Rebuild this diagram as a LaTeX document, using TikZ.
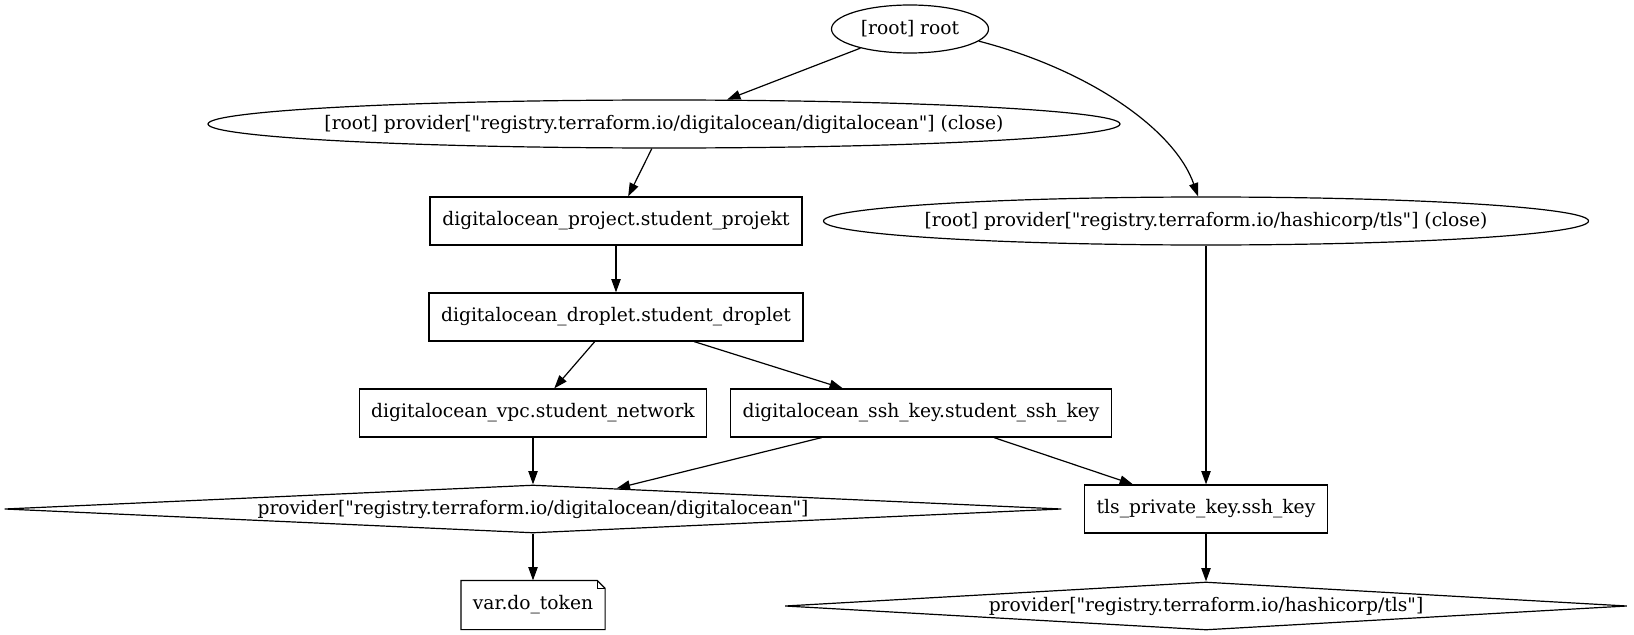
\documentclass[tikz,border=0pt]{standalone}
\usepackage{fontspec}
\setmainfont{DejaVu Serif}[Ligatures=TeXOff]
\usetikzlibrary{shapes.geometric,arrows.meta}
\newcommand{\zw}[1]{\makebox[0pt]{#1}}
\begin{document}
\begin{tikzpicture}[x=0.75pt,y=-0.75pt,
  base/.style={font=\fontsize{14pt}{16pt}\selectfont, inner sep=0pt, line width=0.9pt, minimum height=48*0.75pt},
  ell/.style={base, ellipse, draw},
  rbox/.style={base, rectangle, draw},
  dia/.style={base, diamond, draw, aspect=20},
  notebox/.style={base, rectangle},
  conn/.style={line width=0.9pt, -{Triangle[length=10pt,width=7pt]}}]
\fill[white] (0,0) rectangle (1634,635);
\useasboundingbox (0,0) rectangle (1634,635);

\node[ell, minimum width=157*0.75pt] (root) at (910,29) {\zw{[root] root}};
\node[ell, minimum width=912*0.75pt] (doclose) at (664,124) {\zw{[root] provider["registry.terraform.io/digitalocean/digitalocean"] (close)}};
\node[rbox, minimum width=372*0.75pt] (project) at (616,221) {\zw{digitalocean\_project.student\_projekt}};
\node[ell, minimum width=765*0.75pt] (tlsclose) at (1206,221) {\zw{[root] provider["registry.terraform.io/hashicorp/tls"] (close)}};
\node[rbox, minimum width=374*0.75pt] (droplet) at (616,317) {\zw{digitalocean\_droplet.student\_droplet}};
\node[rbox, minimum width=347*0.75pt] (vpc) at (533,413) {\zw{digitalocean\_vpc.student\_network}};
\node[rbox, minimum width=381*0.75pt] (sshkey) at (921,413) {\zw{digitalocean\_ssh\_key.student\_ssh\_key}};
\node[dia, minimum width=1057*0.75pt] (dodiamond) at (533,509) {\zw{provider["registry.terraform.io/digitalocean/digitalocean"]}};
\node[rbox, minimum width=243*0.75pt] (tlskey) at (1206,509) {\zw{tls\_private\_key.ssh\_key}};
\node[notebox, minimum width=143*0.75pt] (dotoken) at (533,605) {\zw{var.do\_token}};
\node[dia, minimum width=842*0.75pt] (tlsdiamond) at (1206,606) {\zw{provider["registry.terraform.io/hashicorp/tls"]}};

% note shape of var.do_token
\draw[line width=0.9pt] (dotoken.south west) -- (dotoken.south east) -- ([yshift=-6pt]dotoken.north east) -- ([xshift=-6pt]dotoken.north east) -- (dotoken.north west) -- cycle;
\draw[line width=0.9pt] ([xshift=-6pt]dotoken.north east) -- ([xshift=-6pt,yshift=-6pt]dotoken.north east) -- ([yshift=-6pt]dotoken.north east);

\draw[conn] (root) -- (doclose);
\draw[conn] (root.-10) .. controls (1090,70) and (1175,130) .. (tlsclose.108);
\draw[conn] (doclose) -- (project);
\draw[conn] (project) -- (droplet);
\draw[conn] (droplet) -- (vpc);
\draw[conn] (droplet) -- (sshkey);
\draw[conn] (vpc) -- (dodiamond);
\draw[conn] (sshkey) -- (dodiamond);
\draw[conn] (sshkey) -- (tlskey);
\draw[conn] (tlsclose) -- (tlskey);
\draw[conn] (dodiamond) -- (dotoken);
\draw[conn] (tlskey) -- (tlsdiamond);
\end{tikzpicture}
\end{document}
